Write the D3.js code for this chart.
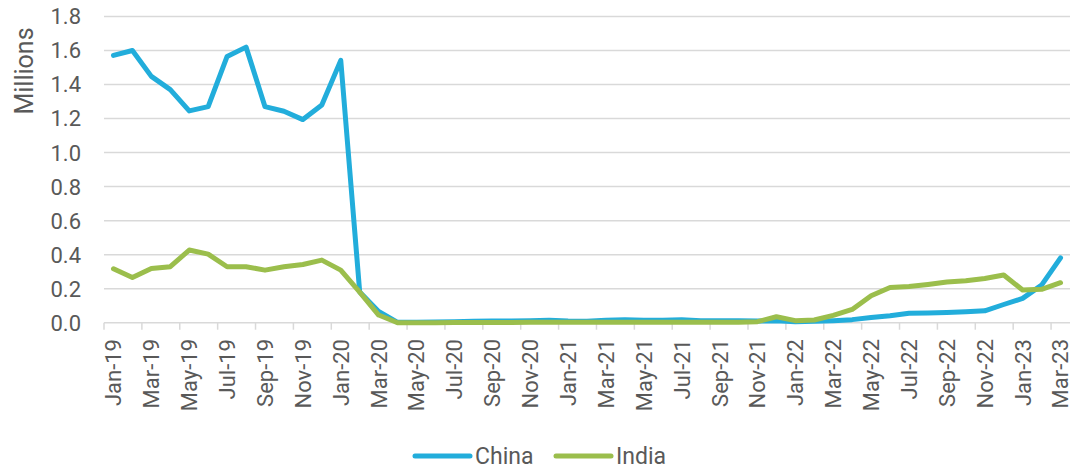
<!DOCTYPE html>
<html><head><meta charset="utf-8">
<script src="https://cdn.jsdelivr.net/npm/d3@7"></script>
<style>
html,body{margin:0;padding:0;background:#fff;}
text{font-family:Roboto,"Noto Sans",sans-serif;fill:#595959;}
</style></head>
<body><svg id="chart" width="1071" height="469"></svg>
<script>
const months = ["Jan","Feb","Mar","Apr","May","Jun","Jul","Aug","Sep","Oct","Nov","Dec"];
const categories = [];
for (let yr = 19; yr <= 23; yr++) for (let m = 0; m < 12; m++) { if (yr === 23 && m > 2) break; categories.push(months[m] + "-" + yr); }

const china = [1.571,1.600,1.448,1.370,1.245,1.270,1.565,1.620,1.270,1.243,1.194,1.280,
  1.542,0.180,0.066,0.002,0.003,0.004,0.006,0.008,0.010,0.010,0.012,0.015,
  0.010,0.008,0.015,0.018,0.015,0.015,0.018,0.012,0.012,0.012,0.010,0.012,
  0.005,0.008,0.012,0.018,0.030,0.041,0.055,0.057,0.060,0.065,0.070,0.107,
  0.143,0.221,0.381];
const india = [0.317,0.266,0.319,0.329,0.427,0.403,0.329,0.329,0.309,0.329,0.342,0.368,
  0.309,0.180,0.045,0.000,0.000,0.000,0.001,0.001,0.001,0.001,0.002,0.002,
  0.002,0.002,0.002,0.003,0.002,0.002,0.002,0.002,0.002,0.003,0.006,0.035,
  0.012,0.016,0.043,0.078,0.158,0.207,0.213,0.225,0.239,0.246,0.260,0.280,
  0.192,0.196,0.235];
const yTicks = [0,0.2,0.4,0.6,0.8,1.0,1.2,1.4,1.6,1.8];
const seriesNames = ["China","India"];
const seriesColors = ["#22ADDB","#9BBE4C"];

const svg = d3.select("#chart");
const mLeft = 104, mRight = 1070, mTop = 16.5, mBottom = 322.7;
const x = d3.scaleBand().domain(categories).range([mLeft, mRight]).padding(0);
const y = d3.scaleLinear().domain([0, 1.8]).range([mBottom, mTop]);

// gridlines
svg.append("g").selectAll("line").data(yTicks.filter(d => d > 0)).join("line")
  .attr("x1", mLeft).attr("x2", mRight)
  .attr("y1", d => y(d)).attr("y2", d => y(d))
  .attr("stroke", "#D9D9D9").attr("stroke-width", 1.5);

// y labels
svg.append("g").selectAll("text").data(yTicks).join("text")
  .attr("x", 81).attr("y", d => y(d)).attr("dy", "0.36em")
  .attr("text-anchor", "end").style("font-size", "22px")
  .text(d => d.toFixed(1));

svg.append("text").attr("transform", "translate(33,71) rotate(-90)")
  .attr("text-anchor", "middle").style("font-size", "25px").text("Millions");

// x axis line and ticks
svg.append("line").attr("x1", mLeft).attr("x2", mRight).attr("y1", mBottom).attr("y2", mBottom)
  .attr("stroke", "#D9D9D9").attr("stroke-width", 1.5);
const tickCats = categories.filter((d, i) => i % 2 === 0);
svg.append("g").selectAll("line").data(tickCats).join("line")
  .attr("x1", d => x(d)).attr("x2", d => x(d))
  .attr("y1", mBottom).attr("y2", mBottom + 7)
  .attr("stroke", "#D9D9D9").attr("stroke-width", 1.5);
svg.append("g").selectAll("text").data(tickCats).join("text")
  .attr("transform", d => `translate(${x(d) + x.bandwidth()/2},339) rotate(-90)`)
  .attr("dy", "0.36em").attr("text-anchor", "end").style("font-size", "22px")
  .text(d => d);

// lines
const line = d3.line().x((d, i) => x(categories[i]) + x.bandwidth()/2).y(d => y(d));
[china, india].forEach((s, k) => {
  svg.append("path").datum(s).attr("d", line).attr("fill", "none")
    .attr("stroke", seriesColors[k]).attr("stroke-width", 5)
    .attr("stroke-linejoin", "round").attr("stroke-linecap", "round");
});

// legend
const legendX = [415, 556];
seriesNames.forEach((n, k) => {
  svg.append("line").attr("x1", legendX[k]).attr("x2", legendX[k] + 55)
    .attr("y1", 456).attr("y2", 456).attr("stroke", seriesColors[k])
    .attr("stroke-width", 5).attr("stroke-linecap", "round");
  svg.append("text").attr("x", legendX[k] + 60).attr("y", 464)
    .style("font-size", "23px").text(n);
});
</script></body></html>
